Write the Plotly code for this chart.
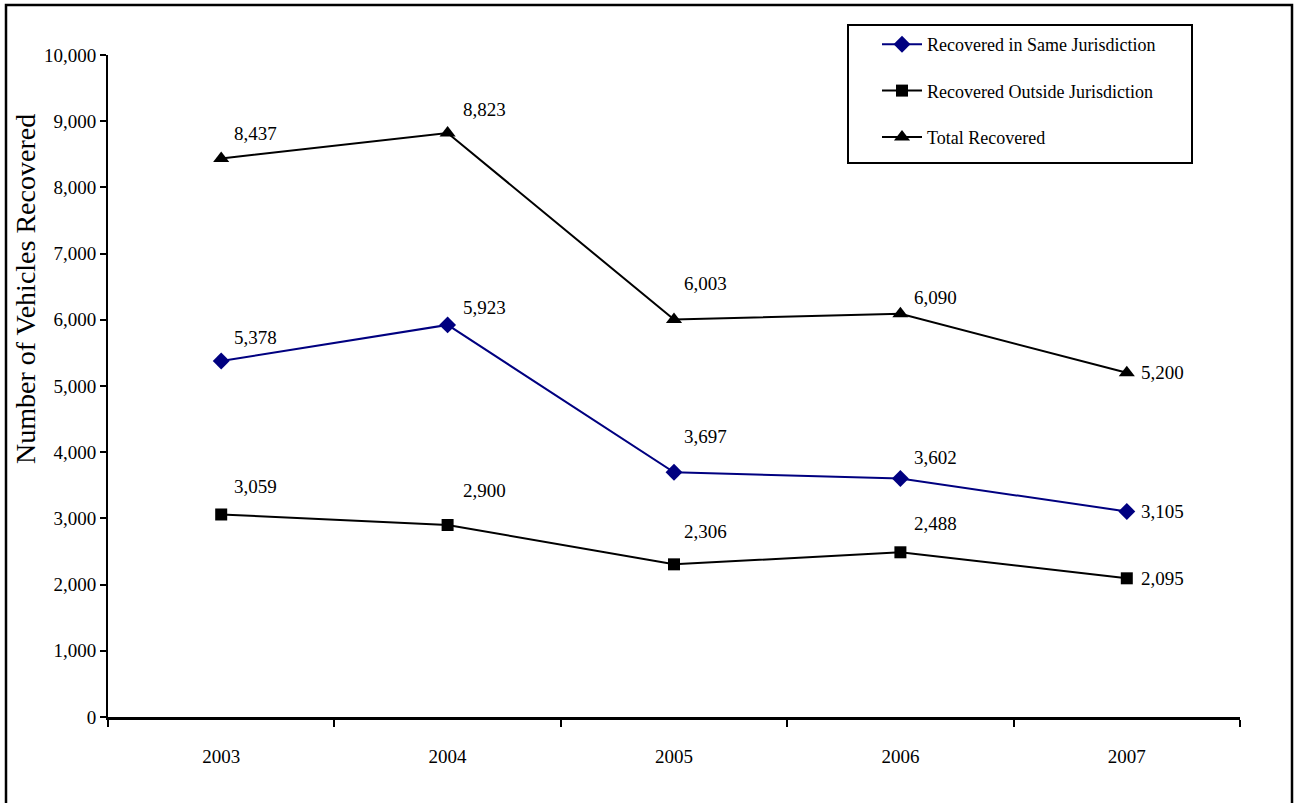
import plotly.graph_objects as go

years = ["2003", "2004", "2005", "2006", "2007"]
same_jurisdiction = [5378, 5923, 3697, 3602, 3105]
outside_jurisdiction = [3059, 2900, 2306, 2488, 2095]
total_recovered = [8437, 8823, 6003, 6090, 5200]

# label offsets (pixels) per point, style only
same_yshift = [23, 17, 36, 21, 0]
outside_yshift = [28, 35, 33, 29, 0]
total_yshift = [25, 23, 36, 16, 0]
xshifts = [11, 13, 8, 12, 12]

FONT = "Liberation Serif"

fig = go.Figure()
series = [
    ("Recovered in Same Jurisdiction", same_jurisdiction, "#000080", "diamond", 13, same_yshift),
    ("Recovered Outside Jurisdiction", outside_jurisdiction, "#000000", "square", 12, outside_yshift),
    ("Total Recovered", total_recovered, "#000000", "triangle-up", 14, total_yshift),
]
for gi, (name, vals, col, sym, size, ysh) in enumerate(series):
    fig.add_trace(go.Scatter(
        x=years, y=vals, name=name, mode="lines+markers",
        legendgroup=f"g{gi}",
        line=dict(color=col, width=2),
        marker=dict(symbol=sym, size=size, color=col),
    ))
    for i, v in enumerate(vals):
        fig.add_annotation(
            x=i, y=v, xref="x", yref="y", text=f"{v:,}", showarrow=False,
            xanchor="left", yanchor="middle",
            xshift=xshifts[i], yshift=ysh[i],
            font=dict(family=FONT, size=19, color="black"),
        )

W, H = 1294, 803
L, R, T, B = 108, 54, 55, 86
pw, ph = W - L - R, H - T - B

def px_x(p):
    return (p - L) / pw

def px_y(p):
    return (H - B - p) / ph

# outer frame
fig.add_shape(type="rect", xref="paper", yref="paper",
              x0=px_x(6), x1=px_x(1292), y0=px_y(806), y1=px_y(5),
              line=dict(color="black", width=2.5), fillcolor="rgba(0,0,0,0)")
# legend frame
fig.add_shape(type="rect", xref="paper", yref="paper",
              x0=px_x(848), x1=px_x(1192), y0=px_y(163), y1=px_y(25),
              line=dict(color="black", width=2), fillcolor="white", layer="below")

# y-axis title
fig.add_annotation(
    xref="paper", yref="paper", x=px_x(25), y=px_y(289),
    text="Number of Vehicles Recovered", textangle=-90, showarrow=False,
    xanchor="center", yanchor="middle",
    font=dict(family=FONT, size=28, color="black"),
)

fig.update_layout(
    width=W, height=H,
    margin=dict(l=L, r=R, t=T, b=B),
    paper_bgcolor="white", plot_bgcolor="white",
    font=dict(family=FONT, color="black"),
    showlegend=True,
    legend=dict(
        x=px_x(849), y=px_y(26), xanchor="left", yanchor="top",
        borderwidth=0, bgcolor="rgba(0,0,0,0)",
        font=dict(family=FONT, size=18, color="black"),
        tracegroupgap=20, itemwidth=40, indentation=28,
    ),
    xaxis=dict(
        type="category", range=[-0.5, 4.5],
        showline=True, linecolor="black", linewidth=2.5,
        ticks="outside", tickson="boundaries", ticklen=7, tickwidth=1.5, tickcolor="black",
        showgrid=False, zeroline=False,
        tickfont=dict(family=FONT, size=19),
        ticklabelstandoff=20,
    ),
    yaxis=dict(
        range=[0, 10000], dtick=1000, tickformat=",",
        showline=True, linecolor="black", linewidth=2,
        ticks="outside", ticklen=6, tickwidth=1.5, tickcolor="black",
        showgrid=False, zeroline=False,
        tickfont=dict(family=FONT, size=19),
    ),
)

fig.write_html("out.html", config={"displayModeBar": False},
               post_script="document.body.style.margin='0';document.body.style.overflow='hidden';")
